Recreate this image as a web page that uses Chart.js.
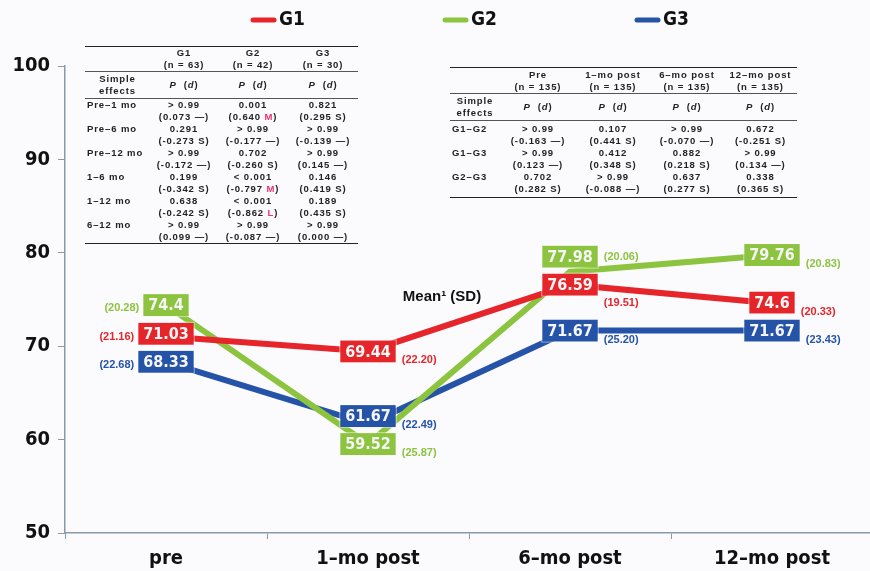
<!DOCTYPE html>
<html>
<head>
<meta charset="utf-8">
<script src="https://cdn.jsdelivr.net/npm/chart.js@4.4.1/dist/chart.umd.min.js"></script>
<style>
  html, body { margin: 0; padding: 0; background: #fbfbfd; overflow: hidden; }
  #wrap { position: relative; width: 873px; height: 571px; }
  #chart { position: absolute; left: 0; top: 0; }
  table.st { position: absolute; border-collapse: collapse; table-layout: fixed; font: bold 9.5px 'Liberation Sans', Arial, sans-serif; letter-spacing: 0.9px; color: #222; line-height: 12px; }
  table.st td { padding: 0; text-align: center; vertical-align: top; white-space: nowrap; }
  table.st td.lab { text-align: left; padding-left: 2px; }
  table.st tr.h1 td { border-top: 1.5px solid #222; border-bottom: 1px solid #555; }
  table.st tr.h2 td { border-bottom: 1px solid #555; vertical-align: middle; }
  table.st tr.last td { border-bottom: 1.5px solid #222; }
  table.st .big { color: #e8336e; }
  #within { left: 85px; top: 46px; width: 273px; }
  #within tr.h1 td { height: 24px; vertical-align: middle; }
  #within tr.h2 td { height: 26px; }
  #within tr.row td { height: 24px; }
  #between { left: 450px; top: 67px; width: 347px; }
  #between tr.h1 td { height: 25px; vertical-align: middle; }
  #between tr.h2 td { height: 26px; }
  #between tr.row td { height: 24px; }
  #between tr.first td { padding-top: 2px; }
  #between tr.last td { padding-bottom: 2px; }
</style>
</head>
<body>
<div id="wrap">
  <canvas id="chart" width="873" height="571"></canvas>
  <table class="st" id="within"></table>
  <table class="st" id="between"></table>
</div>
<script>
const categories = ['pre', '1–mo post', '6–mo post', '12–mo post'];
const groups = ['G1', 'G2', 'G3'];
const colors = ['#e6252a', '#8cc43f', '#2553a8'];
const g1Means = [71.03, 69.44, 76.59, 74.6];
const g2Means = [74.4, 59.52, 77.98, 79.76];
const g3Means = [68.33, 61.67, 71.67, 71.67];
const g1SD = ['21.16', '22.20', '19.51', '20.33'];
const g2SD = ['20.28', '25.87', '20.06', '20.83'];
const g3SD = ['22.68', '22.49', '25.20', '23.43'];
const yTicks = [50, 60, 70, 80, 90, 100];

// within-group simple effects (left table)
const withinN = [63, 42, 30];
const withinRows = ['Pre–1 mo', 'Pre–6 mo', 'Pre–12 mo', '1–6 mo', '1–12 mo', '6–12 mo'];
const withinP = [
  ['> 0.99', '0.001', '0.821'],
  ['0.291', '> 0.99', '> 0.99'],
  ['> 0.99', '0.702', '> 0.99'],
  ['0.199', '< 0.001', '0.146'],
  ['0.638', '< 0.001', '0.189'],
  ['> 0.99', '> 0.99', '> 0.99']
];
const withinD = [
  ['0.073', '0.640', '0.295'],
  ['-0.273', '-0.177', '-0.139'],
  ['-0.172', '-0.260', '0.145'],
  ['-0.342', '-0.797', '0.419'],
  ['-0.242', '-0.862', '0.435'],
  ['0.099', '-0.087', '0.000']
];
const withinSize = [
  ['—', 'M', 'S'],
  ['S', '—', '—'],
  ['—', 'S', '—'],
  ['S', 'M', 'S'],
  ['S', 'L', 'S'],
  ['—', '—', '—']
];

// between-group simple effects (right table)
const betweenHeads = ['Pre', '1–mo post', '6–mo post', '12–mo post'];
const betweenN = [135, 135, 135, 135];
const betweenRows = ['G1–G2', 'G1–G3', 'G2–G3'];
const betweenP = [
  ['> 0.99', '0.107', '> 0.99', '0.672'],
  ['> 0.99', '0.412', '0.882', '> 0.99'],
  ['0.702', '> 0.99', '0.637', '0.338']
];
const betweenD = [
  ['-0.163', '0.441', '-0.070', '-0.251'],
  ['0.123', '0.348', '0.218', '0.134'],
  ['0.282', '-0.088', '0.277', '0.365']
];
const betweenSize = [
  ['—', 'S', '—', 'S'],
  ['—', 'S', 'S', '—'],
  ['S', '—', 'S', 'S']
];

const boldFont = "'DejaVu Sans Condensed', 'DejaVu Sans', sans-serif";
const sdFont = "bold 11px 'Liberation Sans', Arial, sans-serif";

function buildTable(id, heads, ns, rows, ps, ds, sizes, widths) {
  let html = '<colgroup>' + widths.map((w) => `<col style="width:${w}px">`).join('') + '</colgroup>';
  html += '<tr class="h1"><td></td>' + heads.map((h, j) => `<td>${h}<br>(n = ${ns[j]})</td>`).join('') + '</tr>';
  html += '<tr class="h2"><td>Simple<br>effects</td>' + heads.map(() => '<td><i>P</i>&nbsp; (<i>d</i>)</td>').join('') + '</tr>';
  rows.forEach((r, i) => {
    const cls = ['row', i === 0 ? 'first' : '', i === rows.length - 1 ? 'last' : ''].join(' ');
    html += `<tr class="${cls}"><td class="lab">${r}</td>`;
    ps[i].forEach((p, j) => {
      const s = sizes[i][j];
      const sz = s === 'M' || s === 'L' ? `<span class="big">${s}</span>` : s;
      html += `<td>${p}<br>(${ds[i][j]} ${sz})</td>`;
    });
    html += '</tr>';
  });
  document.getElementById(id).innerHTML = html;
}

buildTable('within', groups, withinN, withinRows, withinP, withinD, withinSize, [65, 68, 70, 70]);
buildTable('between', betweenHeads, betweenN, betweenRows, betweenP, betweenD, betweenSize, [50, 76, 74, 74, 73]);

const means = [g1Means, g2Means, g3Means];
const sds = [g1SD, g2SD, g3SD];

// does a label rect touch any drawn line (6px wide) or any value box?
function rectHits(chart, r, boxes) {
  for (const b of boxes) {
    if (r.x0 < b.x1 && r.x1 > b.x0 && r.y0 < b.y1 && r.y1 > b.y0) return true;
  }
  for (let k = 0; k < chart.data.datasets.length; k++) {
    const pts = chart.getDatasetMeta(k).data;
    for (let i = 0; i < pts.length - 1; i++) {
      const a = pts[i], b = pts[i + 1];
      const x0 = Math.max(r.x0, a.x), x1 = Math.min(r.x1, b.x);
      if (x0 >= x1) continue;
      const ya = a.y + (b.y - a.y) * (x0 - a.x) / (b.x - a.x);
      const yb = a.y + (b.y - a.y) * (x1 - a.x) / (b.x - a.x);
      if (Math.min(ya, yb) - 4 < r.y1 && Math.max(ya, yb) + 4 > r.y0) return true;
    }
  }
  return false;
}

const valueBoxes = {
  id: 'valueBoxes',
  afterDatasetsDraw(chart) {
    const ctx = chart.ctx;
    const boxH = 22;
    const minDist = 28;
    const placed = [];
    ctx.save();
    ctx.font = `bold 16px ${boldFont}`;
    categories.forEach((c, i) => {
      const items = chart.data.datasets.map((ds, k) => {
        const pt = chart.getDatasetMeta(k).data[i];
        return { x: pt.x, cy: pt.y, text: String(means[k][i]), sd: '(' + sds[k][i] + ')', color: colors[k], cat: i };
      }).sort((a, b) => a.cy - b.cy);
      for (let k = items.length - 2; k >= 0; k--) {
        const lim = items[k + 1].cy - minDist;
        if (items[k].cy > lim) items[k].cy = lim;
      }
      items.forEach((it) => {
        it.w = ctx.measureText(it.text).width + 10;
        it.x0 = it.x - it.w / 2;
        it.x1 = it.x + it.w / 2;
        it.y0 = it.cy - boxH / 2;
        it.y1 = it.cy + boxH / 2;
        placed.push(it);
      });
    });
    placed.forEach((it) => {
      ctx.fillStyle = it.color;
      ctx.fillRect(it.x0, it.y0, it.w, boxH);
      ctx.strokeStyle = 'rgba(255,255,255,0.5)';
      ctx.lineWidth = 1;
      ctx.strokeRect(it.x0 - 0.5, it.y0 - 0.5, it.w + 1, boxH + 1);
      ctx.font = `bold 16px ${boldFont}`;
      ctx.fillStyle = '#f6f6f6';
      ctx.textAlign = 'center';
      ctx.textBaseline = 'middle';
      ctx.fillText(it.text, it.x, it.cy + 1);
    });
    ctx.font = sdFont;
    placed.forEach((it) => {
      const tw = ctx.measureText(it.sd).width;
      const left = it.cat === 0;
      const lx = left ? it.x0 - 4 - tw : it.x1 + 6;
      const tries = left ? [3, 9, 0, -6] : [9, 0, 14, 18, -9];
      let ly = it.cy + tries[0];
      for (const d of tries) {
        const y = it.cy + d;
        if (!rectHits(chart, { x0: lx, x1: lx + tw, y0: y - 4.5, y1: y + 4.5 }, placed)) { ly = y; break; }
      }
      ctx.fillStyle = it.color;
      ctx.textAlign = 'left';
      ctx.textBaseline = 'middle';
      ctx.fillText(it.sd, lx, ly);
    });
    ctx.restore();
  },
  afterDraw(chart) {
    const ctx = chart.ctx;
    const area = chart.chartArea;
    const stride = 192;
    const startX = (area.left + area.right) / 2 - (stride * (groups.length - 1) + 54) / 2;
    ctx.save();
    groups.forEach((g, k) => {
      const x = startX + k * stride;
      ctx.strokeStyle = colors[k];
      ctx.lineWidth = 5;
      ctx.lineCap = 'round';
      ctx.beginPath();
      ctx.moveTo(x + 3, 20);
      ctx.lineTo(x + 24, 20);
      ctx.stroke();
      ctx.fillStyle = '#111';
      ctx.font = `bold 19px ${boldFont}`;
      ctx.textAlign = 'left';
      ctx.textBaseline = 'middle';
      ctx.fillText(g, x + 29, 20);
    });
    ctx.font = "bold 15px 'Liberation Sans', Arial, sans-serif";
    ctx.fillStyle = '#111';
    ctx.textAlign = 'center';
    ctx.fillText('Mean¹ (SD)', 442, 297);
    ctx.restore();
  }
};

const axisColor = '#8b99a7';

new Chart(document.getElementById('chart'), {
  type: 'line',
  data: {
    labels: categories,
    datasets: groups.map((g, k) => ({
      label: g,
      data: means[k],
      borderColor: colors[k],
      backgroundColor: colors[k],
      borderWidth: 6,
      pointRadius: 0,
      tension: 0,
      fill: false
    }))
  },
  options: {
    responsive: false,
    animation: false,
    devicePixelRatio: 1,
    layout: { padding: { top: 66, left: 0, right: 0, bottom: 0 } },
    plugins: { legend: { display: false }, tooltip: { enabled: false } },
    scales: {
      x: {
        offset: true,
        grid: { drawOnChartArea: false, drawTicks: true, tickLength: 6, color: axisColor, offset: true },
        border: { color: axisColor, width: 1.5 },
        ticks: { color: '#111', padding: 8, font: { family: boldFont, size: 20, weight: 'bold' } },
        afterFit: (s) => { s.height = 38; }
      },
      y: {
        min: yTicks[0],
        max: yTicks[yTicks.length - 1],
        grid: { drawOnChartArea: false, drawTicks: true, tickLength: 7, color: axisColor },
        border: { color: axisColor, width: 1.5 },
        ticks: { stepSize: yTicks[1] - yTicks[0], color: '#111', padding: 8, font: { family: boldFont, size: 20, weight: 'bold' } },
        afterFit: (s) => { s.width = 65; }
      }
    }
  },
  plugins: [valueBoxes]
});
</script>
</body>
</html>
